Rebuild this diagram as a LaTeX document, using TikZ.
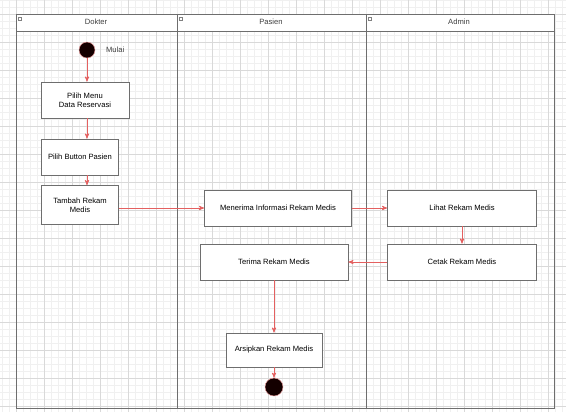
\documentclass[tikz,border=0pt]{standalone}
\usepackage{fontspec}
\setmainfont{Liberation Sans}
\usepackage{tikz}
\usetikzlibrary{arrows,positioning}

\definecolor{flowred}{RGB}{228,96,96}
\definecolor{lanegray}{RGB}{110,110,110}

\begin{document}
\begin{tikzpicture}[x=0.03cm,y=-0.03cm,->,>=stealth',
	actbox/.style={rectangle,draw=lanegray,line width=0.6pt,fill=white,align=center,font=\fontsize{6.5}{7.5}\selectfont,inner sep=1pt},
	startnode/.style={circle,fill=black!92!red,draw=flowred!60,minimum size=0.48cm,inner sep=0pt},
	lanetitle/.style={font=\fontsize{6.5}{7.5}\selectfont,text=black!75},
	tinybox/.style={rectangle,draw=gray,minimum size=0.1cm,inner sep=0pt},
	gridminor/.style={-,draw=gray!12,line width=0.3pt},
	gridmajor/.style={-,draw=gray!30,line width=0.4pt},
	flow/.style={draw=flowred,line width=0.6pt}]
	
	\useasboundingbox (0,0) rectangle (566,412);
	\fill[white] (0,0) rectangle (566,412);
	
	% grid
	\foreach \gx in {2,9,...,566} \draw[gridminor] (\gx,0) -- (\gx,412);
	\foreach \gy in {0,7,...,412} \draw[gridminor] (0,\gy) -- (566,\gy);
	\foreach \gx in {16,44,...,566} \draw[gridmajor] (\gx,0) -- (\gx,412);
	\foreach \gy in {14,42,...,412} \draw[gridmajor] (0,\gy) -- (566,\gy);
	
	% lanes
	\fill[white] (16,14) rectangle (554,31);
	\draw[-,lanegray,line width=0.8pt] (16,14) rectangle (554,408);
	\draw[-,lanegray,line width=0.8pt] (16,31) -- (554,31);
	\draw[-,lanegray,line width=0.8pt] (177,14) -- (177,408);
	\draw[-,lanegray,line width=0.8pt] (366,14) -- (366,408);
	\node [tinybox] (t1) at (20,19) {};
	\node [tinybox] (t2) at (181,19) {};
	\node [tinybox] (t3) at (370,19) {};
	\node [lanetitle] (h1) at (96,22) {Dokter};
	\node [lanetitle] (h2) at (271,22) {Pasien};
	\node [lanetitle] (h3) at (459,22) {Admin};
	
	% actions
	\node [startnode] (0) at (87,50) {};
	\node [lanetitle,right=0.2cm of 0] (m) {Mulai};
	\node [actbox,minimum width=2.64cm,minimum height=1.08cm] (1) at (85,100) {Pilih Menu\\Data Reservasi};
	\node [actbox,minimum width=2.31cm,minimum height=1.08cm] (2) at (80,157) {Pilih Button Pasien};
	\node [actbox,minimum width=2.31cm,minimum height=1.17cm] (3) at (80,205) {Tambah Rekam\\Medis};
	\node [actbox,minimum width=4.41cm,minimum height=1.08cm] (4) at (278,208) {Menerima Informasi Rekam Medis};
	\node [actbox,minimum width=4.47cm,minimum height=1.08cm] (6) at (462,208) {Lihat Rekam Medis};
	\node [actbox,minimum width=4.47cm,minimum height=1.08cm] (7) at (462,262) {Cetak Rekam Medis};
	\node [actbox,minimum width=4.44cm,minimum height=1.08cm] (5) at (274,262) {Terima Rekam Medis};
	\node [actbox,minimum width=2.88cm,minimum height=1.02cm] (8) at (274,350) {Arsipkan Rekam Medis};
	\node [startnode,minimum size=0.54cm] (9) at (274,387) {};
	
	\draw[flow] (0) to (0 |- 1.north);
	\draw[flow] (0 |- 1.south) to (0 |- 2.north);
	\draw[flow] (0 |- 2.south) to (0 |- 3.north);
	\draw[flow] (3.east |- 4.west) to (4.west);
	\draw[flow] (4) to (6);
	\draw[flow] (6) to (7);
	\draw[flow] (7) to (5);
	\draw[flow] (5) to (8);
	\draw[flow] (8) to (9);
\end{tikzpicture}
\end{document}
